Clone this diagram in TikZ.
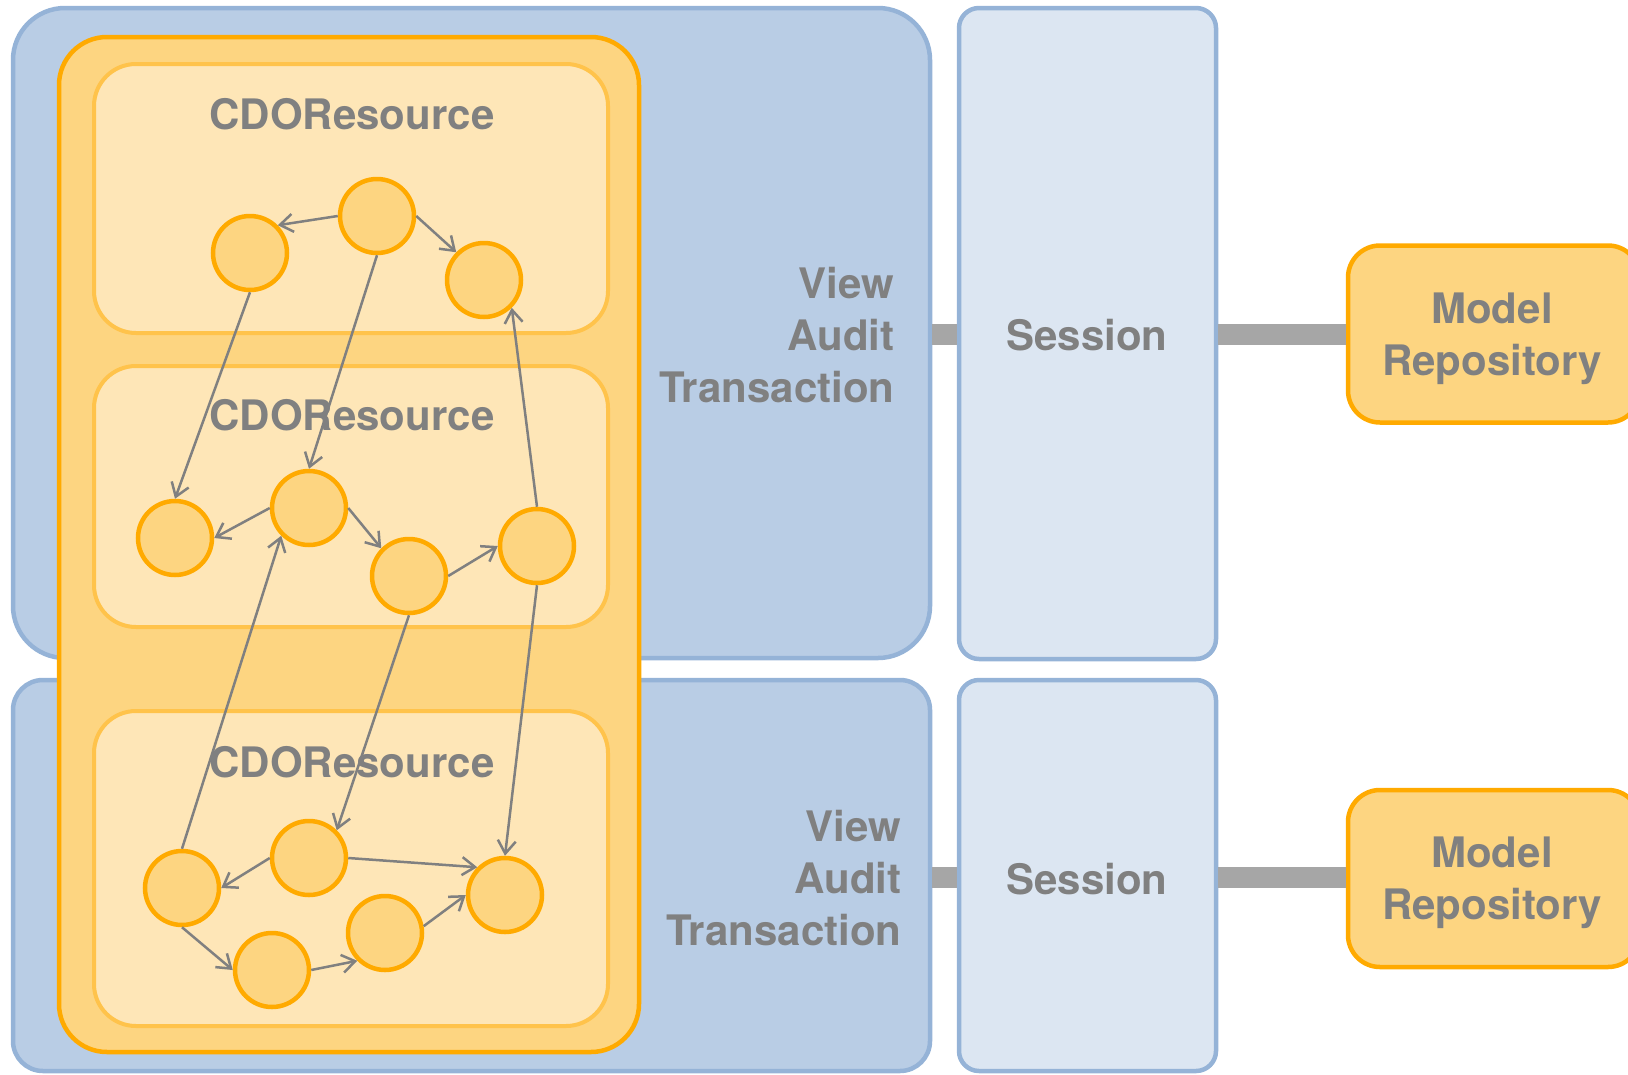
\documentclass[tikz,border=0pt]{standalone}
\usepackage{fontspec}
\setmainfont{TeX Gyre Heros}
\usetikzlibrary{arrows.meta}
\definecolor{bluefill}{HTML}{B9CDE5}
\definecolor{blueline}{HTML}{95B3D7}
\definecolor{sessfill}{HTML}{DCE6F2}
\definecolor{orfill}{HTML}{FDD581}
\definecolor{orline}{HTML}{FFAA00}
\definecolor{resfill}{HTML}{FEE6B7}
\definecolor{resline}{HTML}{FFC34B}
\definecolor{txt}{HTML}{808080}
\definecolor{barc}{HTML}{A6A6A6}
\begin{document}
\begin{tikzpicture}[x=1pt,y=-1pt,
  box/.style={draw, inner sep=0pt},
  lbl/.style={text=txt, font=\bfseries\fontsize{42}{52}\selectfont},
  bluebox/.style={box, draw=blueline, fill=bluefill, line width=4.5pt, minimum width=917pt},
  sessbox/.style={box, draw=blueline, fill=sessfill, line width=4.5pt, rounded corners=20pt, minimum width=257pt},
  repobox/.style={box, draw=orline, fill=orfill, line width=4.5pt, rounded corners=32pt, minimum width=292pt, minimum height=177pt},
  container/.style={box, draw=orline, fill=orfill, line width=4.5pt, rounded corners=48pt},
  resbox/.style={box, draw=resline, fill=resfill, line width=4pt, rounded corners=42pt, minimum width=514pt},
  circ/.style={circle, draw=orline, fill=orfill, line width=4.5pt, minimum size=74pt, inner sep=0pt},
  bar/.style={draw=barc, line width=21pt},
  arr/.style={draw=txt, line width=2.5pt, -{Straight Barb[length=13pt,width=18pt]}}
]
\clip (0,0) rectangle (1628,1074);
% blue containers
\node[bluebox, rounded corners=52pt, minimum height=650pt] (blue1) at (471.5,333) {};
\node[bluebox, rounded corners=30pt, minimum height=391pt] (blue2) at (471.5,875.5) {};
% sessions
\node[sessbox, minimum height=651pt] (sess1) at (1087.5,333.5) {};
\node[sessbox, minimum height=391pt] (sess2) at (1087.5,875.5) {};
\node[lbl] (s1t) at (1087,335) {Session};
\node[lbl] (s2t) at (1087,879) {Session};
% repositories
\node[repobox] (mr1) at (1494,334) {};
\node[repobox] (mr2) at (1494,878.5) {};
\node[lbl, align=center] (mr1t) at (1492,339) {Model\\Repository};
\node[lbl, align=center] (mr2t) at (1492,883) {Model\\Repository};
% bars
\coordinate (b1) at (1087,334);
\coordinate (b2) at (1087,877);
\draw[bar] (blue1.east |- b1) -- (sess1.west |- b1);
\draw[bar] (sess1.east |- b1) -- (mr1.west |- b1);
\draw[bar] (blue2.east |- b2) -- (sess2.west |- b2);
\draw[bar] (sess2.east |- b2) -- (mr2.west |- b2);
% labels
\node[lbl, align=right, anchor=east] (vat1) at (898,335) {View\\Audit\\Transaction};
\node[lbl, align=right, anchor=east] (vat2) at (905,878) {View\\Audit\\Transaction};
% orange container
\node[container, minimum width=580pt, minimum height=1015pt] (cont) at (349,544.5) {};
\node[resbox, minimum height=269pt] (res1) at (351,198.5) {};
\node[resbox, minimum height=261pt] (res2) at (351,496.5) {};
\node[resbox, minimum height=315pt] (res3) at (351,868.5) {};
\node[lbl] (t1) at (352,114) {CDOResource};
\node[lbl] (t2) at (352,415) {CDOResource};
\node[lbl] (t3) at (352,762) {CDOResource};
% circles
\node[circ] (c1) at (250,253) {};
\node[circ] (c2) at (377,216) {};
\node[circ] (c3) at (484,280) {};
\node[circ] (d1) at (175,538) {};
\node[circ] (d2) at (309,508) {};
\node[circ] (d3) at (409,576) {};
\node[circ] (d4) at (537,546) {};
\node[circ] (e1) at (182,888) {};
\node[circ] (e2) at (309,858) {};
\node[circ] (e3) at (272,970) {};
\node[circ] (e4) at (385,933) {};
\node[circ] (e5) at (505,895) {};
% arrows
\draw[arr] (c2.west) -- (c1.north east);
\draw[arr] (c2.east) -- (c3.north west);
\draw[arr] (c1.south) -- (d1.north);
\draw[arr] (c2.south) -- (d2.north);
\draw[arr] (d4.north) -- (c3.south east);
\draw[arr] (d2.west) -- (d1.east);
\draw[arr] (d2.east) -- (d3.north west);
\draw[arr] (d3.east) -- (d4.west);
\draw[arr] (d3.south) -- (e2.north east);
\draw[arr] (d4.south) -- (e5.north);
\draw[arr] (e1.north) -- (d2.south west);
\draw[arr] (e2.west) -- (e1.east);
\draw[arr] (e2.east) -- (e5.north west);
\draw[arr] (e1.south) -- (e3.west);
\draw[arr] (e3.east) -- (e4.south west);
\draw[arr] (e4.10) -- (e5.west);
\end{tikzpicture}
\end{document}
